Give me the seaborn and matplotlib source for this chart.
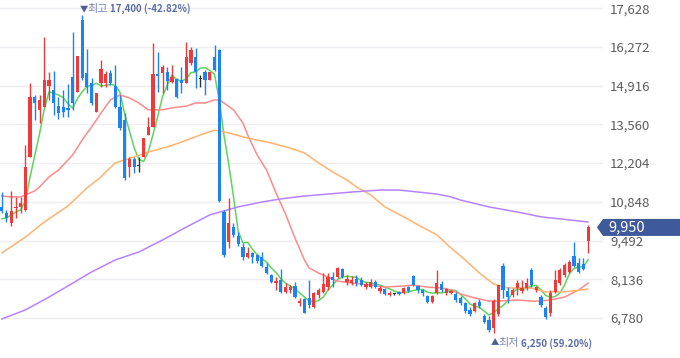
import matplotlib
matplotlib.use("Agg")
import matplotlib.pyplot as plt
import matplotlib.transforms as mtransforms
from matplotlib.patches import Polygon
import seaborn as sns
import pandas as pd
import numpy as np

# ---------------- data ----------------
opens = [10680,10460,10110,10630,10670,10560,12420,14520,14070,14170,
         14910,14770,14200,14170,14120,15220,14700,17220,15360,15010,
         13990,15010,15010,15360,14910,14170,13710,12070,12350,12100,
         12420,13190,13470,15330,15360,15400,15050,15150,15120,15010,
         15710,15920,15150,15400,15120,15920,16170,10490,9440,9960,
         9650,9260,8910,9050,8980,8910,8560,8280,8000,8110,
         7690,7760,7900,7300,7440,7480,7160,7580,7690,7860,
         8210,8210,8490,8040,8000,8140,8110,7860,7860,8040,
         7720,7790,7580,7620,7690,7650,7860,8250,7900,7760,
         7550,7340,7650,7970,7650,7650,7620,7480,7300,7060,
         7020,7340,6850,6710,6430,6920,8600,7720,7580,7830,
         7720,7830,8460,7760,7510,7130,6950,7690,8000,8280,
         8390,8950,8700,8670,9470]
highs = [11190,10560,11230,11020,11020,12840,15010,14590,14590,16620,
         15400,15430,14520,14770,14980,16800,15960,17400,16200,15190,
         14660,15820,15430,15470,15640,14590,13960,12420,12420,12420,
         13080,13820,16410,16100,15640,15570,15640,15190,15570,16450,
         16270,16240,15290,15470,15400,16340,16200,10560,10980,10110,
         9790,9400,9260,9090,9020,9090,8700,8320,8210,8490,
         8000,7930,8040,7480,7480,8110,7690,7830,8350,8350,
         8390,8560,8530,8280,8250,8280,8210,8040,8140,8110,
         7900,7830,7720,7650,7720,7860,7900,8280,7930,7790,
         7580,7580,8460,8070,7830,7760,7690,7550,7340,7160,
         7340,7440,6920,6850,7440,7930,8700,7860,7830,8110,
         8110,8180,8530,7900,7580,7200,7760,8460,8530,8700,
         8810,9440,8880,8880,10030]
lows = [10460,10140,10000,10280,10460,10530,12420,13710,13610,14170,
        14420,13890,13750,13820,13820,14070,14700,15120,14660,14240,
        13990,14870,14870,14940,14120,13360,11610,11720,11860,11890,
        12420,13190,13470,14700,14660,14770,15010,14490,14660,15010,
        15640,14840,14870,14590,15120,15430,10840,8910,9230,9620,
        9300,8810,8880,8700,8700,8560,8320,8000,7760,7650,
        7650,7650,7480,7200,6950,7130,7130,7480,7650,7760,
        7860,8180,8180,7930,7930,7900,7900,7790,7830,7830,
        7650,7580,7550,7580,7580,7620,7690,7900,7650,7550,
        7300,7300,7620,7690,7580,7620,7340,7230,6950,6850,
        6990,7130,6600,6290,6250,6850,7480,7300,7510,7580,
        7650,7760,7860,7690,7160,6740,6850,7650,7930,8210,
        8350,8560,8350,8460,9050]
closes = [10530,10280,10530,10670,10810,12070,14520,14310,14420,15120,
          15120,14310,13960,13990,14070,14310,15960,15190,14870,14310,
          14660,15500,15330,15010,14170,13430,11680,12350,12070,12100,
          13080,13470,15330,15260,15570,15080,15220,14520,15010,15920,
          16170,15400,15150,15120,15400,15470,10880,8980,10110,9690,
          9370,8910,9050,8910,8770,8600,8350,8040,8070,7690,
          7860,7860,7510,7370,6950,7230,7650,7760,7970,8210,
          8110,8530,8210,8140,8110,8000,7930,7970,8040,7860,
          7830,7620,7650,7620,7620,7830,7720,7930,7760,7650,
          7340,7550,8000,7760,7790,7720,7410,7300,7020,6920,
          7300,7200,6640,6360,7370,7930,7760,7510,7760,8000,
          7830,8000,7930,7860,7230,6810,7650,8110,8460,8630,
          8740,8600,8390,8490,9950]

ma5 = [10250,10280,10390,10490,10560,10870,11720,12480,13230,14090,
       14700,14660,14590,14500,14290,14130,14460,14700,14880,14930,
       15000,14910,14930,14960,14930,14690,13920,13330,12740,12330,
       12260,12610,13210,13850,14540,14940,15290,15130,15080,15150,
       15370,15400,15530,15550,15450,15310,14400,13170,12170,11030,
       9810,9410,9430,9190,9000,8850,8740,8530,8370,8150,
       8000,7900,7800,7660,7510,7380,7340,7390,7510,7760,
       7940,8120,8210,8240,8220,8200,8080,8030,8010,7960,
       7930,7860,7800,7720,7670,7670,7690,7740,7770,7780,
       7680,7650,7660,7660,7690,7760,7740,7600,7450,7270,
       7190,7150,7020,6880,6970,7100,7210,7390,7670,7790,
       7770,7820,7900,7920,7770,7570,7500,7530,7650,7930,
       8320,8510,8560,8570,8830]

ma20_idx = [0,2,4,5,7,8,10,12,14,15,17,19,20,21,23,25,27,29,31,34,36,39,41,43,45,46,47,49,51,52,
            54,56,58,60,62,64,65,67,69,71,74,78,81,85,87,90,93,95,97,100,103,105,109,112,114,116,119,122,124]
ma20 = [11050,11020,11020,11090,11230,11370,11720,11960,12310,12490,
        13010,13470,13710,13960,14420,14590,14490,14310,14070,14070,
        14140,14200,14310,14310,14420,14420,14310,14070,13610,13190,
        12490,11960,11160,10420,9580,8810,8530,8350,8210,8070,
        8000,7930,7860,7900,7930,7860,7830,7760,7620,7480,
        7370,7370,7410,7370,7370,7410,7510,7760,8000]

ma60_idx = [0,5,9,14,18,21,22,24,28,31,35,38,42,45,48,52,57,61,64,67,70,73,75,78,81,85,88,92,95,98,
            101,104,107,112,115,119,124]
ma60 = [9050,9610,10140,10700,11330,11720,11890,12210,12420,12590,
        12770,12940,13190,13360,13260,13080,12910,12730,12560,12210,
        11890,11610,11370,11090,10670,10320,10040,9690,9230,8810,
        8350,7970,7830,7830,7690,7690,7790]

ma120_idx = [0,5,10,14,19,24,29,34,39,44,47,50,55,59,64,69,74,80,84,88,92,95,97,103,110,114,118,124]
ma120 = [6740,7060,7510,7900,8390,8810,9090,9510,9960,10390,
         10530,10670,10840,10950,11050,11120,11190,11260,11260,11190,
         11120,11020,10910,10670,10460,10320,10250,10140]

ytick_values = [17628, 16272, 14916, 13560, 12204, 10848, 9492, 8136, 6780]
high_idx, high_val = 17, 17400
low_idx, low_val = 104, 6250
high_word, high_text = "최고", "17,400 (-42.82%)"
low_word, low_text = "최저", "6,250 (59.20%)"

# ---------------- style ----------------
sns.set_theme(style="white")
plt.rcParams['font.family'] = ['Noto Sans CJK KR', 'DejaVu Sans']

W, H = 680, 358
fig = plt.figure(figsize=(W / 100, H / 100), dpi=100)
fig.patch.set_facecolor('white')
AX_R = 603
ax = fig.add_axes([0, 0, AX_R / W, 1])
ax.set_facecolor('white')
YMIN, YMAX = 5375, 17919
STEP = 4.73
ax.set_xlim(-0.36, -0.36 + AX_R / STEP)
ax.set_ylim(YMIN, YMAX)

n = len(closes)
idx = np.arange(n)

# moving averages
frames = [
    pd.DataFrame({'i': idx, 'v': ma5, 'ma': 'MA5'}),
    pd.DataFrame({'i': ma20_idx, 'v': ma20, 'ma': 'MA20'}),
    pd.DataFrame({'i': ma60_idx, 'v': ma60, 'ma': 'MA60'}),
    pd.DataFrame({'i': ma120_idx, 'v': ma120, 'ma': 'MA120'}),
]
ma_df = pd.concat(frames, ignore_index=True)
palette = {'MA5': '#5ed65e', 'MA20': '#ff8a8a', 'MA60': '#ffb36e', 'MA120': '#b583ff'}
sns.lineplot(data=ma_df, x='i', y='v', hue='ma', palette=palette, estimator=None,
             sort=False, legend=False, linewidth=1.1, ax=ax, zorder=2)

# candles
df = pd.DataFrame({'i': idx, 'open': opens, 'high': highs, 'low': lows, 'close': closes})
UP, DOWN, FLAT = '#f03a3a', '#1d84ef', '#333333'
col = np.where(df['close'] > df['open'], UP, np.where(df['close'] < df['open'], DOWN, FLAT))
ax.vlines(df['i'], df['low'], df['high'], colors=col, linewidth=1.0, zorder=3)
bottom = np.minimum(df['open'], df['close'])
height = np.maximum((df['close'] - df['open']).abs(), 30)
ax.bar(df['i'], height, bottom=bottom, width=0.68, color=col, linewidth=0, zorder=4)

# axes cosmetics
for s in ax.spines.values():
    s.set_visible(False)
ax.set_xticks([])
ax.set_xlabel('')
ax.set_ylabel('')
ax.set_yticks(ytick_values)
ax.set_yticklabels([f"{v:,}" for v in ytick_values])
ax.yaxis.tick_right()
ax.tick_params(axis='y', length=0, pad=5, labelsize=9.5, labelcolor='#5c5c5c')
ax.grid(axis='y', color='#eeeef3', linewidth=1)
ax.grid(axis='x', visible=False)
ax.set_axisbelow(True)

# high / low annotations
ANN = '#5b6da6'
def label(i, v, dy, arrow, word, text, offs):
    common = dict(xy=(i, v), textcoords='offset pixels', ha='left', va='center',
                  annotation_clip=False, zorder=12)
    ax.annotate(arrow, xytext=(offs[0], dy), fontsize=6, color='#4f5f95', **common)
    ax.annotate(word, xytext=(offs[1], dy), fontsize=8, color='#7787b8', **common)
    ax.annotate(text, xytext=(offs[2], dy), fontsize=7, color=ANN, fontweight='bold', **common)

label(high_idx, high_val, 6, '▼', high_word, high_text, (-2, 5, 28))
label(low_idx, low_val, -10, '▲', low_word, low_text, (-3, 5, 27))

# current price tag
trans = mtransforms.blended_transform_factory(fig.transFigure, ax.transData)
ppx = (YMAX - YMIN) / H
last = closes[-1]
hh = 8.5 * ppx
tag = Polygon([(597 / W, last), (603 / W, last + hh), (1.0, last + hh),
               (1.0, last - hh), (603 / W, last - hh)], closed=True,
              transform=trans, facecolor='#3e5a9a', edgecolor='none',
              clip_on=False, zorder=10)
ax.add_patch(tag)
ax.text(608 / W, last, f"{last:,}", transform=trans, color='white', fontsize=10.5,
        va='center', ha='left', zorder=11, clip_on=False)

fig.savefig('out.png', dpi=100)
